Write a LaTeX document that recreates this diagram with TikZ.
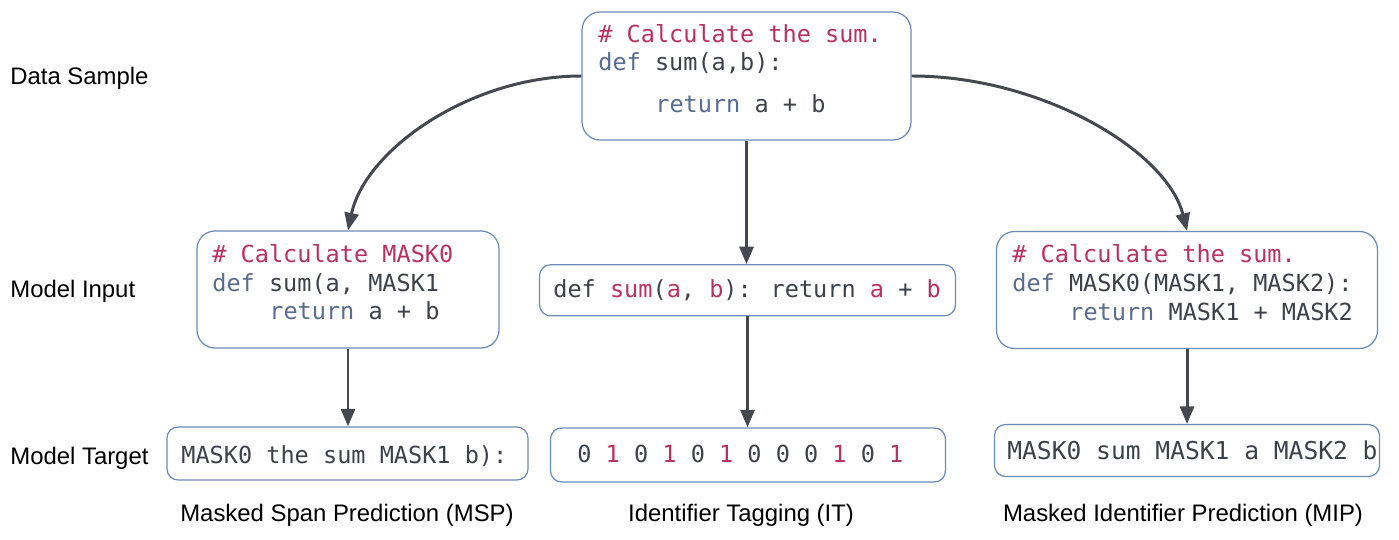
\documentclass[tikz,border=0pt]{standalone}
\usepackage{fontspec}
\setmainfont{Liberation Sans}
\newfontfamily\codefont{DejaVu Sans Mono}
\usetikzlibrary{arrows.meta}
\definecolor{bordercol}{HTML}{6E8BB5}
\definecolor{redcol}{HTML}{B8315F}
\definecolor{kwcol}{HTML}{5B6C8F}
\definecolor{txtcol}{HTML}{3D4149}
\definecolor{arrowcol}{HTML}{45494F}
\newcommand{\rd}[1]{\textcolor{redcol}{#1}}
\newcommand{\kw}[1]{\textcolor{kwcol}{#1}}
\tikzset{
  box/.style={draw=bordercol, line width=0.7pt, inner sep=0pt, fill=white},
  bigbox/.style={box, rounded corners=0.36cm},
  smallbox/.style={box, rounded corners=0.22cm},
  code/.style={anchor=base west, inner sep=0pt, text=txtcol, font=\codefont\fontsize{13.4}{16}\selectfont},
  lbl/.style={inner sep=0pt, text=black, font=\fontsize{13.6}{16}\selectfont},
  arr/.style={draw=arrowcol, line width=1.7pt, -{Triangle[width=8pt,length=10pt]}},
}
\begin{document}
\begin{tikzpicture}[x=0.02cm,y=-0.02cm]
\useasboundingbox[fill=white] (0,0) rectangle (1399,540);

% boxes
\node[bigbox, minimum width=6.58cm, minimum height=2.56cm] (T) at (746.5,76) {};
\node[bigbox, minimum width=6.04cm, minimum height=2.34cm] (L) at (348,289.5) {};
\node[smallbox, minimum width=8.32cm, minimum height=1.02cm] (C) at (747.5,290.3) {};
\node[bigbox, minimum width=7.62cm, minimum height=2.34cm] (R) at (1187,290) {};
\node[smallbox, minimum width=7.22cm, minimum height=1.06cm] (BL) at (347.5,453.5) {};
\node[smallbox, minimum width=7.9cm, minimum height=1.08cm] (BC) at (748,455) {};
\node[smallbox, minimum width=7.7cm, minimum height=1.04cm] (BR) at (1187,450.5) {};

% texts in top box
\node[code] (t1) at (598,43) {\rd{\# Calculate the sum.}};
\node[code] (t2) at (598,71) {\kw{def} sum(a,b):};
\node[code] (t3) at (655,113) {\kw{return} a + b};

% left box
\node[code] (l1) at (212,263) {\rd{\# Calculate MASK0}};
\node[code] (l2) at (212,292) {\kw{def} sum(a, MASK1};
\node[code] (l3) at (269,320) {\kw{return} a + b};

% center box
\node[code] (c1) at (553,298) {def \rd{sum}(\rd{a}, \rd{b}): return \rd{a} + \rd{b}};

% right box
\node[code] (r1) at (1012,263) {\rd{\# Calculate the sum.}};
\node[code] (r2) at (1012,292) {\kw{def} MASK0(MASK1, MASK2):};
\node[code] (r3) at (1069,321) {\kw{return} MASK1 + MASK2};

% bottom boxes
\node[code] (bl1) at (181,463) {MASK0 the sum MASK1 b):};
\node[code] (bc1) at (577,462) {0 \rd{1} 0 \rd{1} 0 \rd{1} 0 0 0 \rd{1} 0 \rd{1}};
\node[code, font=\codefont\fontsize{14}{16}\selectfont] (br1) at (1007,459) {MASK0 sum MASK1 a MASK2 b};

% row labels
\node[lbl, anchor=base west] (ds) at (10,85) {Data Sample};
\node[lbl, anchor=base west] (mi) at (10,298) {Model Input};
\node[lbl, anchor=base west] (mt) at (10,464) {Model Target};

% column labels
\node[lbl, anchor=base] (msp) at (347,521) {Masked Span Prediction (MSP)};
\node[lbl, anchor=base] (it) at (741,521) {Identifier Tagging (IT)};
\node[lbl, anchor=base] (mip) at (1183,521) {Masked Identifier Prediction (MIP)};

% connectors
\draw[arr] (T.west) .. controls +(-112,0) and +(17,-80) .. (L.north);
\draw[arr] (T.east) .. controls +(130,0) and +(-20,-80) .. (R.north);
\draw[arr] (T.south) -- (T.south |- C.north);
\draw[arr] (L.south) -- (L.south |- BL.north);
\draw[arr] (C.south) -- (C.south |- BC.north);
\draw[arr] (R.south) -- (R.south |- BR.north);
\end{tikzpicture}
\end{document}
